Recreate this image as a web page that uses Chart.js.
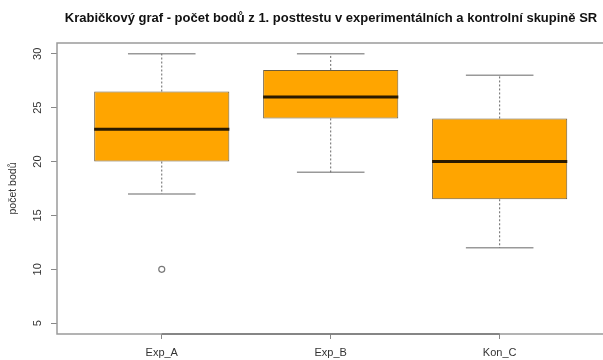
<!DOCTYPE html>
<html><head><meta charset="utf-8">
<script src="https://cdn.jsdelivr.net/npm/chart.js@4.4.1/dist/chart.umd.min.js"></script>
<style>html,body{margin:0;padding:0;background:#fff;overflow:hidden;width:603px;height:360px}#wrap{width:662px;height:360px}</style>
</head><body><div id="wrap"><canvas id="c" width="662" height="360"></canvas></div>
<script>
const categories = ['Exp_A', 'Exp_B', 'Kon_C'];
const whiskerLow = [17, 19, 12];
const q1 = [20, 24, 16.5];
const medians = [23, 26, 20];
const q3 = [26.5, 28.5, 24];
const whiskerHigh = [30, 30, 28];
const outliers = [[10], [], []];
const yTicks = [5, 10, 15, 20, 25, 30];
const titleText = 'Krabičkový graf - počet bodů z 1. posttestu v experimentálních a kontrolní skupině SR';
const yTitle = 'počet bodů';

const BOX_HALF = 0.4, CAP_HALF = 0.2;
const FONT = '"Liberation Sans", Arial, Helvetica, sans-serif';

const boxData = categories.map((c, i) => ({x: i + 1, y: [q1[i], q3[i]]}));
const whiskerData = [], capData = [], medianData = [], outlierData = [];
categories.forEach((c, i) => {
  const x = i + 1;
  whiskerData.push({x, y: q3[i]}, {x, y: whiskerHigh[i]}, {x, y: null},
                   {x, y: q1[i]}, {x, y: whiskerLow[i]}, {x, y: null});
  capData.push({x: x - CAP_HALF, y: whiskerHigh[i]}, {x: x + CAP_HALF, y: whiskerHigh[i]}, {x, y: null},
               {x: x - CAP_HALF, y: whiskerLow[i]}, {x: x + CAP_HALF, y: whiskerLow[i]}, {x, y: null});
  medianData.push({x: x - BOX_HALF, y: medians[i]}, {x: x + BOX_HALF, y: medians[i]}, {x, y: null});
  outliers[i].forEach(v => outlierData.push({x, y: v}));
});

const lineBase = {type: 'line', pointRadius: 0, fill: false, spanGaps: false, tension: 0};

const framePlugin = {
  id: 'frame',
  afterDraw(chart) {
    const {ctx, chartArea: a, scales: {x, y}} = chart;
    ctx.save();
    ctx.strokeStyle = '#9a9a9a';
    ctx.lineWidth = 1.5;
    ctx.strokeRect(a.left, a.top, a.right - a.left, a.bottom - a.top);
    ctx.strokeStyle = '#777';
    ctx.beginPath();
    ctx.moveTo(x.getPixelForValue(1), a.bottom);
    ctx.lineTo(x.getPixelForValue(categories.length), a.bottom);
    ctx.stroke();
    ctx.fillStyle = '#333';
    ctx.font = '11px ' + FONT;
    ctx.textAlign = 'center';
    ctx.textBaseline = 'middle';
    y.ticks.forEach(t => {
      const py = y.getPixelForValue(t.value);
      ctx.save();
      ctx.translate(a.left - 19, py);
      ctx.rotate(-Math.PI / 2);
      ctx.fillText(String(t.value), 0, 0);
      ctx.restore();
    });
    ctx.restore();
  }
};

new Chart(document.getElementById('c'), {
  type: 'bar',
  data: {
    datasets: [
      Object.assign({}, lineBase, {data: medianData, borderColor: '#2a1a00', borderWidth: 3, order: 0}),
      {type: 'scatter', data: outlierData, pointRadius: 3, pointStyle: 'circle',
       backgroundColor: 'rgba(0,0,0,0)', borderColor: '#777', borderWidth: 1.2, order: 1},
      {type: 'bar', data: boxData, backgroundColor: '#FFA500', borderColor: '#6e5c3c', borderWidth: 1,
       borderSkipped: false, barPercentage: 0.8, categoryPercentage: 1.0, order: 2},
      Object.assign({}, lineBase, {data: whiskerData, borderColor: '#666', borderWidth: 1, borderDash: [2, 2], order: 3}),
      Object.assign({}, lineBase, {data: capData, borderColor: '#999', borderWidth: 1.5, order: 4})
    ]
  },
  options: {
    responsive: false,
    animation: false,
    devicePixelRatio: 1,
    layout: {padding: 0},
    plugins: {
      legend: {display: false},
      tooltip: {enabled: false},
      title: {display: true, text: titleText, color: '#111',
              font: {size: 13, weight: 'bold', family: FONT}, padding: {top: 10.7, bottom: 16.7}}
    },
    scales: {
      x: {
        type: 'linear', min: 0.38, max: 3.93, offset: false,
        afterBuildTicks: s => { s.ticks = categories.map((c, i) => ({value: i + 1})); },
        afterFit: s => { s.height = 26; },
        ticks: {callback: v => categories[v - 1] || '', color: '#333', font: {size: 11, family: FONT},
                padding: 7, autoSkip: false, maxRotation: 0},
        grid: {display: true, offset: false, drawOnChartArea: false, drawTicks: true, tickLength: 5, color: '#888'},
        border: {display: false}
      },
      y: {
        type: 'linear', min: 4, max: 31,
        afterBuildTicks: s => { s.ticks = yTicks.map(v => ({value: v})); },
        afterFit: s => { s.width = 57; },
        ticks: {color: 'rgba(0,0,0,0)', font: {size: 11, family: FONT}},
        grid: {display: true, drawOnChartArea: false, drawTicks: true, tickLength: 6, color: '#888'},
        border: {display: false},
        title: {display: true, text: yTitle, color: '#333', font: {size: 10.5, family: FONT}, padding: {top: 7, bottom: 0}}
      }
    }
  },
  plugins: [framePlugin]
});
</script>
</body></html>
